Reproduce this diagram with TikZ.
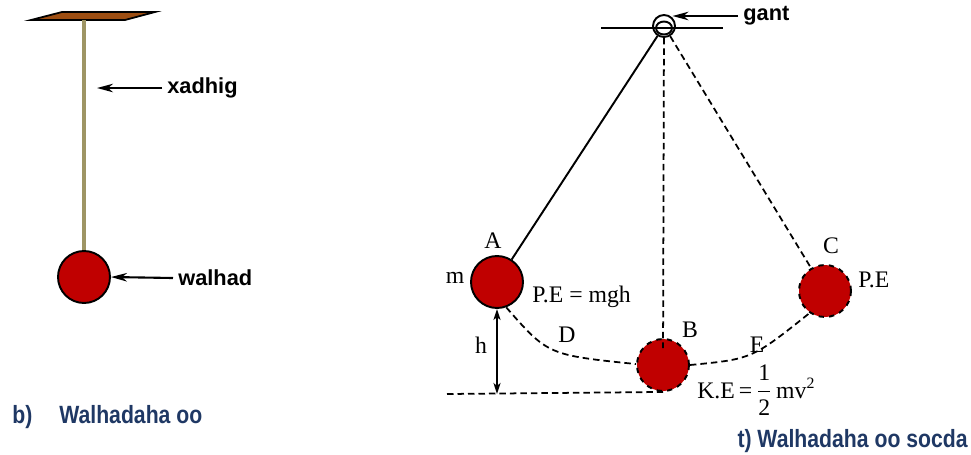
\documentclass[tikz,border=0pt]{standalone}
\usepackage{fontspec}
\setmainfont{Liberation Serif}
\newfontfamily\labelfont{Liberation Sans}
\newfontfamily\capfont[FakeStretch=0.85]{Liberation Sans}
\usetikzlibrary{arrows.meta}
\definecolor{bobred}{RGB}{192,0,0}
\definecolor{rodcol}{RGB}{158,149,100}
\definecolor{ceilcol}{RGB}{158,78,18}
\definecolor{capblue}{RGB}{31,56,100}
\tikzset{
  bob/.style={circle,minimum size=1.04cm,inner sep=0pt,fill=bobred,draw=black,line width=1.1pt},
  ghost/.style={bob,dashed},
  swing/.style={dashed,dash pattern=on 0.13cm off 0.08cm,line width=1pt},
  pointer/.style={-{Stealth[length=0.32cm,width=0.17cm,inset=0.1cm]},line width=1.2pt},
  tag/.style={font=\labelfont\bfseries\fontsize{12.4}{14}\selectfont,anchor=west,inner sep=0.1cm},
  sym/.style={font=\fontsize{13.5}{15}\selectfont,inner sep=0pt},
  caption/.style={font=\capfont\bfseries\fontsize{14.2}{16}\selectfont,text=capblue,anchor=base west,inner sep=0pt}
}
\begin{document}
\begin{tikzpicture}[x=0.02cm,y=-0.02cm]
\useasboundingbox (0,0) rectangle (971,454);
% simple pendulum
\begin{scope}
\filldraw[fill=ceilcol,draw=black,line width=1pt] (31,20) -- (62,12) -- (155,12) -- (125,20) -- cycle;
\node[bob] (ball) at (84,277) {};
\draw[rodcol,line width=2.8pt] (84,20) -- (ball.north);
\coordinate (rod) at (97,88);
\node[tag] (xadhig) at (162,88) {xadhig};
\draw[pointer] (xadhig.west) -- (rod);
\node[tag] (walhad) at (173,278) {walhad};
\draw[pointer] (walhad.west) -- (ball.east);
\node[caption] (capb) at (12,423) {\makebox[0.94cm][l]{b)}Walhadaha oo};
\end{scope}
% swinging pendulum
\begin{scope}
\draw[line width=1.1pt] (601,28) -- (723,28);
\node[circle,draw,line width=1.1pt,minimum size=0.44cm,inner sep=0pt] (pivot) at (664,26) {};
\draw[line width=1.1pt] (664,28) ellipse[x radius=0.16cm,y radius=0.13cm];
\node[tag] (gant) at (738,16) {gant};
\draw[pointer] (gant.west) -- (gant.west -| pivot.north east);
\node[bob] (A) at (497,282) {};
\node[ghost] (B) at (663,365) {};
\node[ghost] (C) at (825,291) {};
\draw[line width=1.1pt] (pivot) -- (A);
\draw[swing,shorten >=-0.2cm] (pivot) -- (B);
\draw[swing] (pivot) -- (C);
\draw[swing] (A.290) .. controls (548,355) .. (B.178);
\draw[swing] (B.east) .. controls (752,359) .. (C.235);
\coordinate (base) at (447,394);
\draw[swing] (base) -- (B.south);
\draw[{Stealth[length=0.22cm,width=0.14cm,inset=0.06cm]}-{Stealth[length=0.22cm,width=0.14cm,inset=0.06cm]},line width=1.2pt] (A.south) -- (A.south |- base);
\node[sym] (lblA) at (493,241) {A};
\node[sym] (lblm) at (455,278) {m};
\node[sym,anchor=base west] (peA) at (532,302) {P.E = mgh};
\node[sym] (lblh) at (481,345) {h};
\node[sym] (lblD) at (567,335) {D};
\node[sym] (lblB) at (690,330) {B};
\node[sym] (lblE) at (757,345) {E};
\node[sym] (lblC) at (831,246) {C};
\node[sym,anchor=base west] (peC) at (858,287) {P.E};
\node[sym,anchor=base west] (keB) at (697,398) {K.E\,=\,$\displaystyle\frac{\mbox{1}}{\mbox{2}}$\,mv$^{\mbox{\small 2}}$};
\node[caption,anchor=base east] (capt) at (968,447) {t) Walhadaha oo socda};
\end{scope}
\end{tikzpicture}
\end{document}
